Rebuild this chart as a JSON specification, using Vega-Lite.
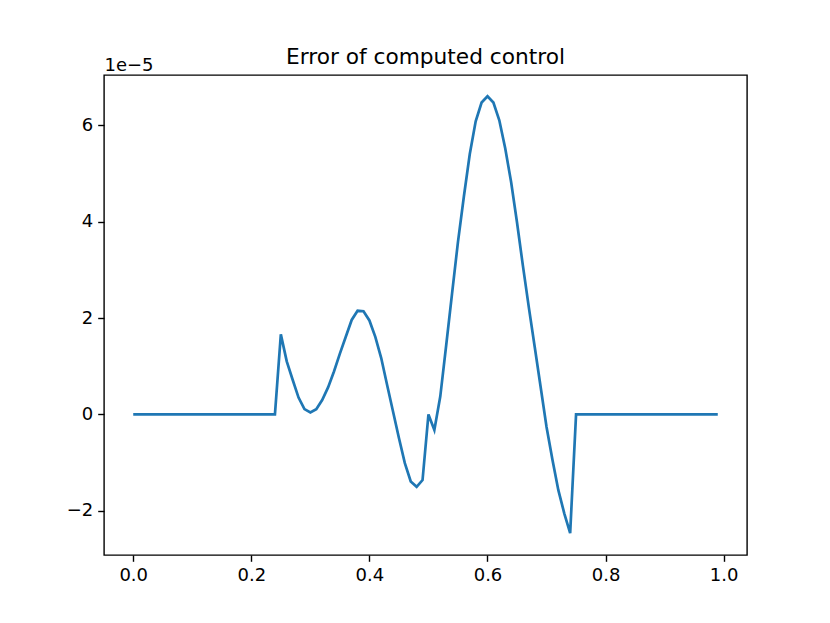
{
  "$schema": "https://vega.github.io/schema/vega-lite/v6.json",
  "width": 643,
  "height": 480,
  "autosize": "none",
  "padding": {"left": 104, "top": 75, "right": 83, "bottom": 68},
  "background": "white",
  "title": {"text": "Error of computed control", "font": "DejaVu Sans", "fontSize": 21.7, "fontWeight": "normal", "color": "black", "offset": -30, "baseline": "alphabetic", "anchor": "middle"},
  "config": {
    "view": {"stroke": "black", "strokeWidth": 1.4},
    "axis": {"labelFont": "DejaVu Sans", "labelFontSize": 18, "labelColor": "black", "tickColor": "black", "tickSize": 6.3, "tickWidth": 1.4, "domain": false, "grid": false, "labelPadding": 5}
  },
  "data": {"values": [
    {"x": 0.00, "y": 0}, {"x": 0.01, "y": 0}, {"x": 0.02, "y": 0}, {"x": 0.03, "y": 0}, {"x": 0.04, "y": 0},
    {"x": 0.05, "y": 0}, {"x": 0.06, "y": 0}, {"x": 0.07, "y": 0}, {"x": 0.08, "y": 0}, {"x": 0.09, "y": 0},
    {"x": 0.10, "y": 0}, {"x": 0.11, "y": 0}, {"x": 0.12, "y": 0}, {"x": 0.13, "y": 0}, {"x": 0.14, "y": 0},
    {"x": 0.15, "y": 0}, {"x": 0.16, "y": 0}, {"x": 0.17, "y": 0}, {"x": 0.18, "y": 0}, {"x": 0.19, "y": 0},
    {"x": 0.20, "y": 0}, {"x": 0.21, "y": 0}, {"x": 0.22, "y": 0}, {"x": 0.23, "y": 0}, {"x": 0.24, "y": 0},
    {"x": 0.25, "y": 1.66e-5}, {"x": 0.26, "y": 1.10e-5}, {"x": 0.27, "y": 0.72e-5}, {"x": 0.28, "y": 0.35e-5}, {"x": 0.29, "y": 0.11e-5},
    {"x": 0.30, "y": 0.04e-5}, {"x": 0.31, "y": 0.11e-5}, {"x": 0.32, "y": 0.30e-5}, {"x": 0.33, "y": 0.56e-5}, {"x": 0.34, "y": 0.89e-5},
    {"x": 0.35, "y": 1.26e-5}, {"x": 0.36, "y": 1.61e-5}, {"x": 0.37, "y": 1.96e-5}, {"x": 0.38, "y": 2.15e-5}, {"x": 0.39, "y": 2.14e-5},
    {"x": 0.40, "y": 1.95e-5}, {"x": 0.41, "y": 1.61e-5}, {"x": 0.42, "y": 1.17e-5}, {"x": 0.43, "y": 0.61e-5}, {"x": 0.44, "y": 0.06e-5},
    {"x": 0.45, "y": -0.49e-5}, {"x": 0.46, "y": -1.01e-5}, {"x": 0.47, "y": -1.39e-5}, {"x": 0.48, "y": -1.50e-5}, {"x": 0.49, "y": -1.36e-5},
    {"x": 0.50, "y": 0.0}, {"x": 0.51, "y": -0.32e-5}, {"x": 0.52, "y": 0.37e-5}, {"x": 0.53, "y": 1.43e-5}, {"x": 0.54, "y": 2.51e-5},
    {"x": 0.55, "y": 3.58e-5}, {"x": 0.56, "y": 4.52e-5}, {"x": 0.57, "y": 5.40e-5}, {"x": 0.58, "y": 6.08e-5}, {"x": 0.59, "y": 6.47e-5},
    {"x": 0.60, "y": 6.60e-5}, {"x": 0.61, "y": 6.47e-5}, {"x": 0.62, "y": 6.10e-5}, {"x": 0.63, "y": 5.52e-5}, {"x": 0.64, "y": 4.82e-5},
    {"x": 0.65, "y": 3.98e-5}, {"x": 0.66, "y": 3.08e-5}, {"x": 0.67, "y": 2.22e-5}, {"x": 0.68, "y": 1.40e-5}, {"x": 0.69, "y": 0.57e-5},
    {"x": 0.70, "y": -0.26e-5}, {"x": 0.71, "y": -0.94e-5}, {"x": 0.72, "y": -1.57e-5}, {"x": 0.73, "y": -2.05e-5}, {"x": 0.74, "y": -2.46e-5},
    {"x": 0.75, "y": 0}, {"x": 0.76, "y": 0}, {"x": 0.77, "y": 0}, {"x": 0.78, "y": 0}, {"x": 0.79, "y": 0},
    {"x": 0.80, "y": 0}, {"x": 0.81, "y": 0}, {"x": 0.82, "y": 0}, {"x": 0.83, "y": 0}, {"x": 0.84, "y": 0},
    {"x": 0.85, "y": 0}, {"x": 0.86, "y": 0}, {"x": 0.87, "y": 0}, {"x": 0.88, "y": 0}, {"x": 0.89, "y": 0},
    {"x": 0.90, "y": 0}, {"x": 0.91, "y": 0}, {"x": 0.92, "y": 0}, {"x": 0.93, "y": 0}, {"x": 0.94, "y": 0},
    {"x": 0.95, "y": 0}, {"x": 0.96, "y": 0}, {"x": 0.97, "y": 0}, {"x": 0.98, "y": 0}, {"x": 0.99, "y": 0}
  ]},
  "mark": {"type": "line", "color": "#1f77b4", "strokeWidth": 2.7, "clip": true},
  "encoding": {
    "x": {"field": "x", "type": "quantitative",
          "scale": {"domain": [-0.0495, 1.0395], "nice": false, "zero": false},
          "axis": {"title": null, "values": [0, 0.2, 0.4, 0.6, 0.8, 1.0], "format": ".1f"}},
    "y": {"field": "y", "type": "quantitative",
          "scale": {"domain": [-2.915e-5, 7.04e-5], "nice": false, "zero": false},
          "axis": {"title": "1e\u22125", "titleAngle": 0, "titleX": 0, "titleY": -5, "titleAlign": "left", "titleBaseline": "alphabetic",
                   "titleFont": "DejaVu Sans", "titleFontSize": 18, "titleFontWeight": "normal", "titleColor": "black",
                   "values": [-2e-5, 0, 2e-5, 4e-5, 6e-5], "labelExpr": "format(datum.value * 1e5, '.0f')"}}
  }
}
